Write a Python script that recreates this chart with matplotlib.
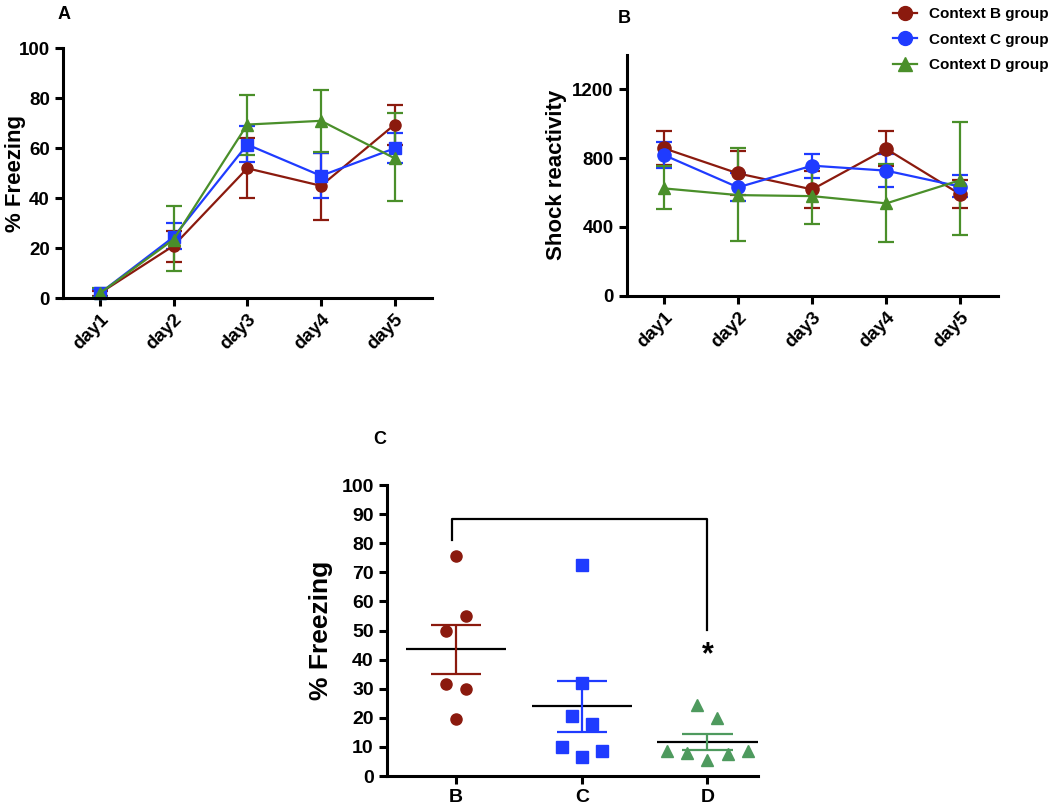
import numpy as np
import matplotlib
matplotlib.use("Agg")
import matplotlib.pyplot as plt
from matplotlib.lines import Line2D

plt.rcParams['font.family'] = ['Liberation Sans', 'DejaVu Sans']
plt.rcParams['font.weight'] = 'bold'

# ========== DATA ==========
days = ['day1', 'day2', 'day3', 'day4', 'day5']

# Panel A - % freezing over days (mean, lower err, upper err)
frz_b = [2, 21, 52, 45, 69.5]
frz_b_lo = [1, 14.5, 40, 31.5, 61.5]
frz_b_hi = [3, 27, 64, 58, 77.5]
frz_c = [2, 24.5, 61.5, 49, 60]
frz_c_lo = [0.5, 19.5, 54.5, 40, 54]
frz_c_hi = [3.5, 30, 69, 58, 66]
frz_d = [2, 23.5, 69.5, 71, 56]
frz_d_lo = [0.5, 11, 57.5, 58.5, 39]
frz_d_hi = [4, 37, 81.5, 83.5, 74]

# Panel B - shock reactivity
shk_b = [857, 711, 618, 853, 589]
shk_b_lo = [757, 585, 508, 756, 508]
shk_b_hi = [957, 841, 727, 957, 672]
shk_c = [818, 630, 756, 727, 634]
shk_c_lo = [740, 550, 682, 634, 575]
shk_c_hi = [895, 711, 824, 824, 702]
shk_d = [624, 585, 579, 537, 672]
shk_d_lo = [502, 320, 420, 314, 353]
shk_d_hi = [756, 860, 740, 765, 1012]

# Panel C - individual animals, % freezing
groups = ['B', 'C', 'D']
pts_b = [75.6, 55.1, 49.8, 31.6, 29.8, 19.5]
pts_c = [72.5, 31.8, 20.7, 17.8, 9.9, 8.7, 6.6]
pts_d = [24.4, 19.8, 8.5, 7.8, 5.5, 7.5, 8.5]
# ==========================

RED = '#8B1A0E'
BLUE = '#1F3BFF'
GREEN = '#4A8F2A'
GREEN_C = '#4E9A5E'

fig = plt.figure(figsize=(10.5, 8.06), dpi=100)


def style_axis(ax, size=13.5):
    ax.spines['top'].set_visible(False)
    ax.spines['right'].set_visible(False)
    for s in ['left', 'bottom']:
        ax.spines[s].set_linewidth(2.2)
    ax.tick_params(width=2.2, length=6, direction='out', labelsize=size)
    for lab in ax.get_xticklabels() + ax.get_yticklabels():
        lab.set_fontweight('bold')


def err_line(ax, x, y, lo, hi, color, marker, ms, label=None):
    y = np.array(y)
    yerr = [y - np.array(lo), np.array(hi) - y]
    ax.errorbar(x, y, yerr=yerr, color=color, marker=marker, ms=ms, lw=1.6,
                elinewidth=1.6, capsize=6, capthick=1.6, label=label,
                clip_on=False)


x = np.arange(len(days))

# Plot A
axA = fig.add_axes([0.060, 0.630, 0.351, 0.310])
err_line(axA, x, frz_b, frz_b_lo, frz_b_hi, RED, 'o', 8)
err_line(axA, x, frz_c, frz_c_lo, frz_c_hi, BLUE, 's', 8.5)
err_line(axA, x, frz_d, frz_d_lo, frz_d_hi, GREEN, '^', 8.5)
axA.set_xlim(-0.5, 4.5)
axA.set_ylim(0, 100)
axA.set_yticks([0, 20, 40, 60, 80, 100])
axA.set_xticks(x)
axA.set_xticklabels(days, rotation=45, ha='right', rotation_mode='anchor')
axA.set_ylabel('% Freezing', fontsize=16, fontweight='bold')
axA.yaxis.set_label_coords(-0.100, 0.5)
style_axis(axA)
fig.text(0.055, 0.993, 'A', fontsize=13, fontweight='bold', va='top')

# Plot B
axB = fig.add_axes([0.597, 0.633, 0.353, 0.299])
err_line(axB, x, shk_b, shk_b_lo, shk_b_hi, RED, 'o', 9.5, 'Context B group')
err_line(axB, x, shk_c, shk_c_lo, shk_c_hi, BLUE, 'o', 9.5, 'Context C group')
err_line(axB, x, shk_d, shk_d_lo, shk_d_hi, GREEN, '^', 9, 'Context D group')
axB.set_xlim(-0.5, 4.5)
axB.set_ylim(0, 1400)
axB.set_yticks([0, 400, 800, 1200])
axB.set_xticks(x)
axB.set_xticklabels(days, rotation=45, ha='right', rotation_mode='anchor')
axB.set_ylabel('Shock reactivity', fontsize=16, fontweight='bold', labelpad=4)
style_axis(axB)
fig.text(0.588, 0.988, 'B', fontsize=13, fontweight='bold', va='top')

handles = [Line2D([0], [0], color=RED, marker='o', ms=10, lw=1.6),
           Line2D([0], [0], color=BLUE, marker='o', ms=10, lw=1.6),
           Line2D([0], [0], color=GREEN, marker='^', ms=10, lw=1.6)]
fig.legend(handles, ['Context B group', 'Context C group', 'Context D group'],
           loc='upper right', bbox_to_anchor=(1.012, 1.008), frameon=False,
           prop={'size': 11, 'weight': 'bold'}, handlelength=1.6,
           labelspacing=0.75, handletextpad=0.8)

# Plot C
axC = fig.add_axes([0.3686, 0.0372, 0.353, 0.361])
jit_b = [0, 0.08, -0.08, -0.08, 0.08, 0]
jit_c = [0, 0, -0.08, 0.08, -0.16, 0.16, 0]
jit_d = [-0.08, 0.08, -0.32, -0.16, 0, 0.16, 0.32]
spec = [(pts_b, jit_b, RED, 'o', 8), (pts_c, jit_c, BLUE, 's', 8.5),
        (pts_d, jit_d, GREEN_C, '^', 8.5)]
for i, (vals, jit, col, mk, ms) in enumerate(spec):
    vals = np.array(vals)
    axC.plot(i + np.array(jit), vals, ls='none', marker=mk, ms=ms,
             color=col, clip_on=False)
    m = vals.mean()
    sem = vals.std(ddof=1) / np.sqrt(len(vals))
    axC.hlines(m, i - 0.4, i + 0.4, color='black', lw=1.6)
    axC.errorbar(i, m, yerr=sem, color=col, lw=1.6, capsize=0, fmt='none')
    axC.hlines([m - sem, m + sem], i - 0.2, i + 0.2, color=col, lw=1.6)

# significance bracket B vs D
axC.plot([-0.03, -0.03, 2.0, 2.0], [81, 88.3, 88.3, 50.2], color='black',
         lw=1.6)
axC.text(2.0, 41.5, '*', ha='center', va='center', fontsize=22,
         fontweight='bold')

axC.set_xlim(-0.55, 2.4)
axC.set_ylim(0, 100)
axC.set_yticks(np.arange(0, 101, 10))
axC.set_xticks(range(3))
axC.set_xticklabels(groups)
axC.set_ylabel('% Freezing', fontsize=19, fontweight='bold', labelpad=6)
style_axis(axC, 14)
fig.text(0.355, 0.465, 'C', fontsize=13, fontweight='bold', va='top')

plt.savefig('out.png', dpi=100)
